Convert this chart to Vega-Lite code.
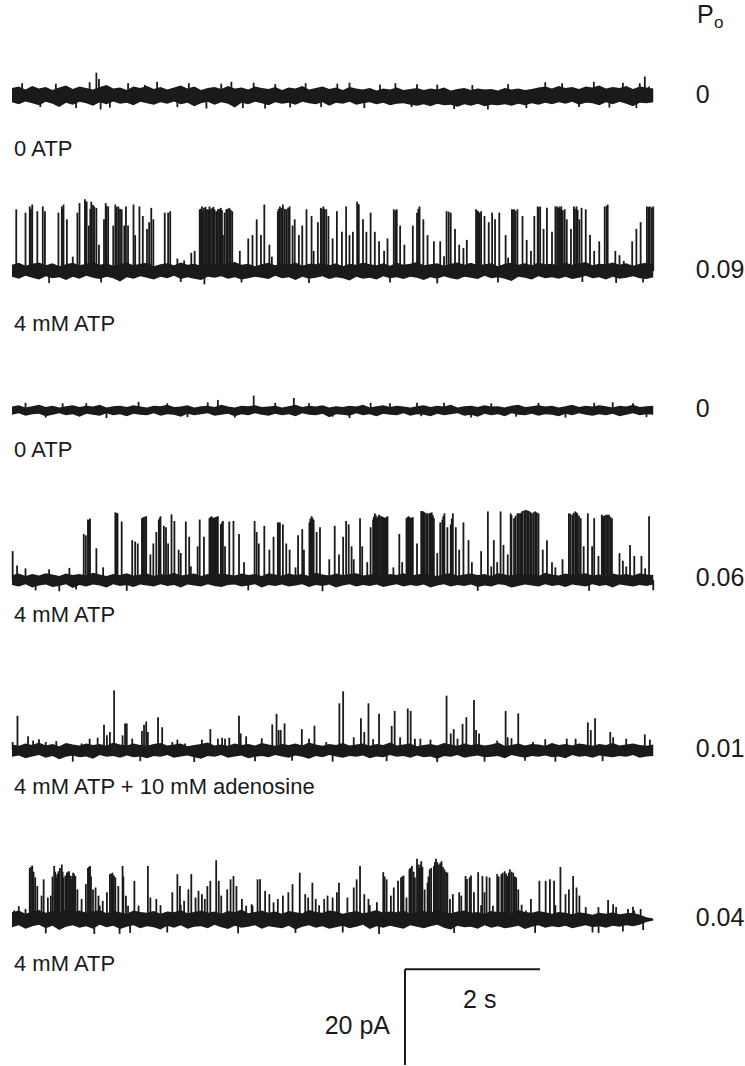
{
"$schema":"https://vega.github.io/schema/vega-lite/v6.json",
"width":745,"height":1066,"autosize":{"type":"fit","contains":"padding"},"padding":0,"background":"white",
"config":{"view":{"stroke":null},"text":{"font":"Liberation Sans","color":"#1a1a1a"}},
"datasets":{
"labels":[{"k":1,"label":"0 ATP","po":"0"},{"k":2,"label":"4 mM ATP","po":"0.09"},{"k":3,"label":"0 ATP","po":"0"},{"k":4,"label":"4 mM ATP","po":"0.06"},{"k":5,"label":"4 mM ATP + 10 mM adenosine","po":"0.01"},{"k":6,"label":"4 mM ATP","po":"0.04"}],
"header":[{"main":"P","sub":"o"}],
"scalebar":[{"time":"2 s","current":"20 pA"}],
"noise":[
{"k":1,"t":0,"h":1.6,"l":-1.4},{"k":1,"t":0.1,"h":1.9,"l":-1.8},{"k":1,"t":0.2,"h":1.3,"l":-1.2},{"k":1,"t":0.3,"h":2.0,"l":-1.6},{"k":1,"t":0.4,"h":1.5,"l":-2.0},{"k":1,"t":0.5,"h":1.8,"l":-1.3},{"k":1,"t":0.6,"h":1.2,"l":-1.7},{"k":1,"t":0.7,"h":1.7,"l":-2.4},{"k":1,"t":0.8,"h":2.1,"l":-1.5},{"k":1,"t":0.9,"h":1.4,"l":-1.9},
{"k":1,"t":1.0,"h":1.9,"l":-1.3},{"k":1,"t":1.1,"h":1.6,"l":-1.6},{"k":1,"t":1.2,"h":1.3,"l":-2.1},{"k":1,"t":1.3,"h":1.8,"l":-1.4},{"k":1,"t":1.4,"h":2.2,"l":-1.8},{"k":1,"t":1.5,"h":1.5,"l":-1.2},{"k":1,"t":1.6,"h":1.7,"l":-1.7},{"k":1,"t":1.7,"h":1.2,"l":-1.5},{"k":1,"t":1.8,"h":1.9,"l":-2.0},{"k":1,"t":1.9,"h":1.6,"l":-1.3},
{"k":1,"t":2.0,"h":2.0,"l":-1.6},{"k":1,"t":2.1,"h":1.4,"l":-1.9},{"k":1,"t":2.2,"h":1.8,"l":-1.4},{"k":1,"t":2.3,"h":1.3,"l":-1.7},{"k":1,"t":2.4,"h":1.7,"l":-1.2},{"k":1,"t":2.5,"h":2.1,"l":-1.8},{"k":1,"t":2.6,"h":1.5,"l":-1.5},{"k":1,"t":2.7,"h":1.9,"l":-2.2},{"k":1,"t":2.8,"h":1.2,"l":-1.6},{"k":1,"t":2.9,"h":1.6,"l":-1.3},
{"k":1,"t":3.0,"h":1.8,"l":-1.9},{"k":1,"t":3.1,"h":1.4,"l":-1.4},{"k":1,"t":3.2,"h":2.0,"l":-1.7},{"k":1,"t":3.3,"h":1.5,"l":-2.5},{"k":1,"t":3.4,"h":1.7,"l":-1.5},{"k":1,"t":3.5,"h":1.3,"l":-1.8},{"k":1,"t":3.6,"h":1.9,"l":-1.3},{"k":1,"t":3.7,"h":1.6,"l":-1.6},{"k":1,"t":3.8,"h":1.4,"l":-2.0},{"k":1,"t":3.9,"h":1.8,"l":-1.4},
{"k":1,"t":4.0,"h":1.2,"l":-1.7},{"k":1,"t":4.1,"h":1.7,"l":-1.5},{"k":1,"t":4.2,"h":1.5,"l":-1.9},{"k":1,"t":4.3,"h":2.0,"l":-1.3},{"k":1,"t":4.4,"h":1.3,"l":-1.6},{"k":1,"t":4.5,"h":1.6,"l":-1.8},{"k":1,"t":4.6,"h":1.9,"l":-1.4},{"k":1,"t":4.7,"h":1.4,"l":-2.1},{"k":1,"t":4.8,"h":1.7,"l":-1.5},{"k":1,"t":4.9,"h":1.2,"l":-1.7},
{"k":1,"t":5.0,"h":1.8,"l":-1.3},{"k":1,"t":5.1,"h":1.5,"l":-1.9},{"k":1,"t":5.2,"h":1.3,"l":-1.6},{"k":1,"t":5.3,"h":1.6,"l":-1.4},{"k":1,"t":5.4,"h":1.1,"l":-1.8},{"k":1,"t":5.5,"h":1.5,"l":-1.5},{"k":1,"t":5.6,"h":1.3,"l":-2.0},{"k":1,"t":5.7,"h":1.7,"l":-1.7},{"k":1,"t":5.8,"h":1.2,"l":-1.6},{"k":1,"t":5.9,"h":1.4,"l":-1.9},
{"k":1,"t":6.0,"h":1.6,"l":-2.1},{"k":1,"t":6.1,"h":1.2,"l":-1.8},{"k":1,"t":6.2,"h":1.5,"l":-2.2},{"k":1,"t":6.3,"h":1.3,"l":-1.7},{"k":1,"t":6.4,"h":1.7,"l":-2.0},{"k":1,"t":6.5,"h":1.1,"l":-1.9},{"k":1,"t":6.6,"h":1.4,"l":-2.3},{"k":1,"t":6.7,"h":1.6,"l":-1.8},{"k":1,"t":6.8,"h":1.2,"l":-2.1},{"k":1,"t":6.9,"h":1.5,"l":-1.7},
{"k":1,"t":7.0,"h":1.3,"l":-2.2},{"k":1,"t":7.1,"h":1.4,"l":-1.9},{"k":1,"t":7.2,"h":1.1,"l":-2.0},{"k":1,"t":7.3,"h":1.6,"l":-1.8},{"k":1,"t":7.4,"h":1.3,"l":-2.1},{"k":1,"t":7.5,"h":1.5,"l":-1.7},{"k":1,"t":7.6,"h":1.2,"l":-2.0},{"k":1,"t":7.7,"h":1.4,"l":-1.6},{"k":1,"t":7.8,"h":1.7,"l":-1.9},{"k":1,"t":7.9,"h":1.9,"l":-1.5},
{"k":1,"t":8.0,"h":1.5,"l":-1.8},{"k":1,"t":8.1,"h":2.0,"l":-1.4},{"k":1,"t":8.2,"h":1.6,"l":-1.7},{"k":1,"t":8.3,"h":1.8,"l":-1.3},{"k":1,"t":8.4,"h":1.4,"l":-1.9},{"k":1,"t":8.5,"h":1.9,"l":-1.5},{"k":1,"t":8.6,"h":1.7,"l":-1.6},{"k":1,"t":8.7,"h":2.1,"l":-2.0},{"k":1,"t":8.8,"h":1.5,"l":-1.4},{"k":1,"t":8.9,"h":1.8,"l":-1.8},
{"k":1,"t":9.0,"h":1.6,"l":-1.3},{"k":1,"t":9.1,"h":2.0,"l":-1.7},{"k":1,"t":9.2,"h":1.4,"l":-2.2},{"k":1,"t":9.3,"h":1.9,"l":-1.5},{"k":1,"t":9.4,"h":1.7,"l":-1.6},{"k":1,"t":9.5,"h":1.5,"l":-1.4},

{"k":2,"t":0,"h":1.3,"l":-1.2},{"k":2,"t":0.1,"h":1.7,"l":-1.6},{"k":2,"t":0.2,"h":1.1,"l":-1.0},{"k":2,"t":0.3,"h":1.5,"l":-1.4},{"k":2,"t":0.4,"h":1.8,"l":-1.8},{"k":2,"t":0.5,"h":1.2,"l":-1.1},{"k":2,"t":0.6,"h":1.6,"l":-1.5},{"k":2,"t":0.7,"h":1.0,"l":-1.3},{"k":2,"t":0.8,"h":1.4,"l":-1.9},{"k":2,"t":0.9,"h":1.7,"l":-1.2},
{"k":2,"t":1.0,"h":1.2,"l":-1.6},{"k":2,"t":1.1,"h":1.5,"l":-1.0},{"k":2,"t":1.2,"h":1.9,"l":-1.4},{"k":2,"t":1.3,"h":1.3,"l":-1.7},{"k":2,"t":1.4,"h":1.6,"l":-1.2},{"k":2,"t":1.5,"h":1.1,"l":-1.5},{"k":2,"t":1.6,"h":1.4,"l":-2.2},{"k":2,"t":1.7,"h":1.8,"l":-1.3},{"k":2,"t":1.8,"h":1.2,"l":-1.6},{"k":2,"t":1.9,"h":1.5,"l":-1.1},
{"k":2,"t":2.0,"h":1.7,"l":-1.4},{"k":2,"t":2.1,"h":1.0,"l":-1.8},{"k":2,"t":2.2,"h":1.4,"l":-1.2},{"k":2,"t":2.3,"h":1.6,"l":-1.5},{"k":2,"t":2.4,"h":1.2,"l":-1.0},{"k":2,"t":2.5,"h":1.8,"l":-1.7},{"k":2,"t":2.6,"h":1.3,"l":-1.3},{"k":2,"t":2.7,"h":1.5,"l":-1.6},{"k":2,"t":2.8,"h":1.1,"l":-1.9},{"k":2,"t":2.9,"h":1.7,"l":-1.2},
{"k":2,"t":3.0,"h":1.4,"l":-1.4},{"k":2,"t":3.1,"h":1.2,"l":-1.1},{"k":2,"t":3.2,"h":1.6,"l":-1.6},{"k":2,"t":3.3,"h":1.9,"l":-1.3},{"k":2,"t":3.4,"h":1.3,"l":-1.8},{"k":2,"t":3.5,"h":1.5,"l":-1.5},{"k":2,"t":3.6,"h":1.0,"l":-1.2},{"k":2,"t":3.7,"h":1.4,"l":-1.4},{"k":2,"t":3.8,"h":1.7,"l":-1.7},{"k":2,"t":3.9,"h":1.2,"l":-1.0},
{"k":2,"t":4.0,"h":1.6,"l":-1.5},{"k":2,"t":4.1,"h":1.3,"l":-1.3},{"k":2,"t":4.2,"h":1.8,"l":-1.9},{"k":2,"t":4.3,"h":1.1,"l":-1.2},{"k":2,"t":4.4,"h":1.5,"l":-1.6},{"k":2,"t":4.5,"h":1.4,"l":-1.4},{"k":2,"t":4.6,"h":1.7,"l":-1.1},{"k":2,"t":4.7,"h":1.2,"l":-1.7},{"k":2,"t":4.8,"h":1.6,"l":-1.3},{"k":2,"t":4.9,"h":1.0,"l":-1.5},
{"k":2,"t":5.0,"h":1.5,"l":-2.0},{"k":2,"t":5.1,"h":1.3,"l":-1.2},{"k":2,"t":5.2,"h":1.8,"l":-1.6},{"k":2,"t":5.3,"h":1.4,"l":-1.4},{"k":2,"t":5.4,"h":1.2,"l":-1.8},{"k":2,"t":5.5,"h":1.6,"l":-1.1},{"k":2,"t":5.6,"h":1.1,"l":-1.5},{"k":2,"t":5.7,"h":1.7,"l":-1.3},{"k":2,"t":5.8,"h":1.3,"l":-1.7},{"k":2,"t":5.9,"h":1.5,"l":-1.2},
{"k":2,"t":6.0,"h":1.9,"l":-1.4},{"k":2,"t":6.1,"h":1.2,"l":-1.9},{"k":2,"t":6.2,"h":1.4,"l":-1.3},{"k":2,"t":6.3,"h":1.6,"l":-1.6},{"k":2,"t":6.4,"h":1.1,"l":-1.1},{"k":2,"t":6.5,"h":1.5,"l":-1.5},{"k":2,"t":6.6,"h":1.8,"l":-1.8},{"k":2,"t":6.7,"h":1.3,"l":-1.2},{"k":2,"t":6.8,"h":1.7,"l":-1.4},{"k":2,"t":6.9,"h":1.2,"l":-1.7},
{"k":2,"t":7.0,"h":1.4,"l":-1.0},{"k":2,"t":7.1,"h":1.6,"l":-1.5},{"k":2,"t":7.2,"h":1.0,"l":-1.3},{"k":2,"t":7.3,"h":1.5,"l":-1.6},{"k":2,"t":7.4,"h":1.7,"l":-2.1},{"k":2,"t":7.5,"h":1.3,"l":-1.2},{"k":2,"t":7.6,"h":1.6,"l":-1.4},{"k":2,"t":7.7,"h":1.2,"l":-1.8},{"k":2,"t":7.8,"h":1.8,"l":-1.1},{"k":2,"t":7.9,"h":1.4,"l":-1.5},
{"k":2,"t":8.0,"h":1.5,"l":-1.3},{"k":2,"t":8.1,"h":1.1,"l":-1.6},{"k":2,"t":8.2,"h":1.7,"l":-1.2},{"k":2,"t":8.3,"h":1.3,"l":-1.7},{"k":2,"t":8.4,"h":1.6,"l":-1.4},{"k":2,"t":8.5,"h":1.9,"l":-1.0},{"k":2,"t":8.6,"h":1.2,"l":-1.5},{"k":2,"t":8.7,"h":1.5,"l":-1.3},{"k":2,"t":8.8,"h":1.4,"l":-1.8},{"k":2,"t":8.9,"h":1.8,"l":-1.2},
{"k":2,"t":9.0,"h":1.3,"l":-1.6},{"k":2,"t":9.1,"h":1.6,"l":-1.4},{"k":2,"t":9.2,"h":1.1,"l":-1.1},{"k":2,"t":9.3,"h":1.5,"l":-1.5},{"k":2,"t":9.4,"h":1.7,"l":-1.7},{"k":2,"t":9.5,"h":1.4,"l":-1.3},

{"k":3,"t":0,"h":0.8,"l":-0.9},{"k":3,"t":0.1,"h":1.1,"l":-0.6},{"k":3,"t":0.2,"h":0.6,"l":-1.1},{"k":3,"t":0.3,"h":0.9,"l":-0.8},{"k":3,"t":0.4,"h":1.2,"l":-0.7},{"k":3,"t":0.5,"h":0.7,"l":-1.2},{"k":3,"t":0.6,"h":1.0,"l":-0.9},{"k":3,"t":0.7,"h":0.6,"l":-0.6},{"k":3,"t":0.8,"h":0.9,"l":-1.0},{"k":3,"t":0.9,"h":1.1,"l":-0.8},
{"k":3,"t":1.0,"h":0.7,"l":-1.3},{"k":3,"t":1.1,"h":1.0,"l":-0.7},{"k":3,"t":1.2,"h":0.8,"l":-0.9},{"k":3,"t":1.3,"h":1.2,"l":-1.1},{"k":3,"t":1.4,"h":0.6,"l":-0.6},{"k":3,"t":1.5,"h":0.9,"l":-1.0},{"k":3,"t":1.6,"h":1.0,"l":-0.8},{"k":3,"t":1.7,"h":0.7,"l":-1.2},{"k":3,"t":1.8,"h":1.1,"l":-0.7},{"k":3,"t":1.9,"h":0.8,"l":-0.9},
{"k":3,"t":2.0,"h":0.6,"l":-1.0},{"k":3,"t":2.1,"h":1.0,"l":-0.6},{"k":3,"t":2.2,"h":0.9,"l":-1.1},{"k":3,"t":2.3,"h":1.2,"l":-0.8},{"k":3,"t":2.4,"h":0.7,"l":-0.9},{"k":3,"t":2.5,"h":0.8,"l":-1.3},{"k":3,"t":2.6,"h":1.1,"l":-0.7},{"k":3,"t":2.7,"h":0.6,"l":-1.0},{"k":3,"t":2.8,"h":0.9,"l":-0.8},{"k":3,"t":2.9,"h":1.0,"l":-0.6},
{"k":3,"t":3.0,"h":0.7,"l":-1.1},{"k":3,"t":3.1,"h":1.2,"l":-0.9},{"k":3,"t":3.2,"h":0.8,"l":-0.7},{"k":3,"t":3.3,"h":0.6,"l":-1.2},{"k":3,"t":3.4,"h":1.0,"l":-0.8},{"k":3,"t":3.5,"h":0.9,"l":-1.0},{"k":3,"t":3.6,"h":1.1,"l":-0.6},{"k":3,"t":3.7,"h":0.7,"l":-0.9},{"k":3,"t":3.8,"h":0.8,"l":-1.1},{"k":3,"t":3.9,"h":1.0,"l":-0.7},
{"k":3,"t":4.0,"h":0.6,"l":-1.0},{"k":3,"t":4.1,"h":0.9,"l":-0.8},{"k":3,"t":4.2,"h":1.2,"l":-1.2},{"k":3,"t":4.3,"h":0.7,"l":-0.6},{"k":3,"t":4.4,"h":1.0,"l":-0.9},{"k":3,"t":4.5,"h":0.8,"l":-1.0},{"k":3,"t":4.6,"h":1.1,"l":-0.7},{"k":3,"t":4.7,"h":0.6,"l":-1.4},{"k":3,"t":4.8,"h":0.9,"l":-0.8},{"k":3,"t":4.9,"h":0.7,"l":-0.9},
{"k":3,"t":5.0,"h":1.0,"l":-1.1},{"k":3,"t":5.1,"h":0.8,"l":-0.6},{"k":3,"t":5.2,"h":1.2,"l":-1.0},{"k":3,"t":5.3,"h":0.6,"l":-0.8},{"k":3,"t":5.4,"h":0.9,"l":-1.2},{"k":3,"t":5.5,"h":1.1,"l":-0.7},{"k":3,"t":5.6,"h":0.7,"l":-0.9},{"k":3,"t":5.7,"h":1.0,"l":-1.0},{"k":3,"t":5.8,"h":0.8,"l":-0.6},{"k":3,"t":5.9,"h":0.6,"l":-1.1},
{"k":3,"t":6.0,"h":0.9,"l":-0.8},{"k":3,"t":6.1,"h":1.1,"l":-0.9},{"k":3,"t":6.2,"h":0.7,"l":-1.2},{"k":3,"t":6.3,"h":1.0,"l":-0.7},{"k":3,"t":6.4,"h":0.8,"l":-1.0},{"k":3,"t":6.5,"h":1.2,"l":-0.8},{"k":3,"t":6.6,"h":0.6,"l":-0.6},{"k":3,"t":6.7,"h":0.9,"l":-1.1},{"k":3,"t":6.8,"h":1.0,"l":-0.9},{"k":3,"t":6.9,"h":0.7,"l":-1.3},
{"k":3,"t":7.0,"h":1.1,"l":-0.7},{"k":3,"t":7.1,"h":0.8,"l":-1.0},{"k":3,"t":7.2,"h":0.9,"l":-0.8},{"k":3,"t":7.3,"h":0.6,"l":-1.2},{"k":3,"t":7.4,"h":1.0,"l":-0.6},{"k":3,"t":7.5,"h":1.2,"l":-0.9},{"k":3,"t":7.6,"h":0.7,"l":-1.0},{"k":3,"t":7.7,"h":0.9,"l":-0.7},{"k":3,"t":7.8,"h":1.1,"l":-1.1},{"k":3,"t":7.9,"h":0.8,"l":-0.8},
{"k":3,"t":8.0,"h":1.0,"l":-0.9},{"k":3,"t":8.1,"h":0.6,"l":-1.2},{"k":3,"t":8.2,"h":0.9,"l":-0.7},{"k":3,"t":8.3,"h":1.2,"l":-1.0},{"k":3,"t":8.4,"h":0.7,"l":-0.6},{"k":3,"t":8.5,"h":1.0,"l":-0.9},{"k":3,"t":8.6,"h":0.8,"l":-1.1},{"k":3,"t":8.7,"h":1.1,"l":-0.8},{"k":3,"t":8.8,"h":0.9,"l":-1.0},{"k":3,"t":8.9,"h":0.6,"l":-0.7},
{"k":3,"t":9.0,"h":1.0,"l":-1.2},{"k":3,"t":9.1,"h":0.8,"l":-0.9},{"k":3,"t":9.2,"h":1.2,"l":-0.6},{"k":3,"t":9.3,"h":0.7,"l":-1.0},{"k":3,"t":9.4,"h":0.9,"l":-0.8},{"k":3,"t":9.5,"h":1.0,"l":-0.9},

{"k":4,"t":0,"h":1.0,"l":-1.1},{"k":4,"t":0.1,"h":1.3,"l":-1.4},{"k":4,"t":0.2,"h":0.8,"l":-0.9},{"k":4,"t":0.3,"h":1.2,"l":-1.6},{"k":4,"t":0.4,"h":0.9,"l":-1.2},{"k":4,"t":0.5,"h":1.4,"l":-1.0},{"k":4,"t":0.6,"h":1.1,"l":-1.5},{"k":4,"t":0.7,"h":0.8,"l":-1.3},{"k":4,"t":0.8,"h":1.3,"l":-0.9},{"k":4,"t":0.9,"h":1.0,"l":-1.7},
{"k":4,"t":1.0,"h":1.2,"l":-1.1},{"k":4,"t":1.1,"h":0.9,"l":-1.4},{"k":4,"t":1.2,"h":1.5,"l":-1.0},{"k":4,"t":1.3,"h":1.1,"l":-1.2},{"k":4,"t":1.4,"h":0.8,"l":-1.6},{"k":4,"t":1.5,"h":1.2,"l":-0.9},{"k":4,"t":1.6,"h":1.0,"l":-1.3},{"k":4,"t":1.7,"h":1.4,"l":-1.1},{"k":4,"t":1.8,"h":0.9,"l":-1.5},{"k":4,"t":1.9,"h":1.1,"l":-1.0},
{"k":4,"t":2.0,"h":1.3,"l":-1.2},{"k":4,"t":2.1,"h":0.8,"l":-1.4},{"k":4,"t":2.2,"h":1.2,"l":-0.9},{"k":4,"t":2.3,"h":1.0,"l":-1.3},{"k":4,"t":2.4,"h":1.5,"l":-1.1},{"k":4,"t":2.5,"h":0.9,"l":-1.6},{"k":4,"t":2.6,"h":1.1,"l":-1.0},{"k":4,"t":2.7,"h":1.3,"l":-1.2},{"k":4,"t":2.8,"h":0.8,"l":-1.4},{"k":4,"t":2.9,"h":1.2,"l":-0.9},
{"k":4,"t":3.0,"h":1.0,"l":-1.3},{"k":4,"t":3.1,"h":1.4,"l":-1.5},{"k":4,"t":3.2,"h":1.1,"l":-1.1},{"k":4,"t":3.3,"h":0.9,"l":-1.0},{"k":4,"t":3.4,"h":1.3,"l":-1.4},{"k":4,"t":3.5,"h":1.0,"l":-1.2},{"k":4,"t":3.6,"h":1.2,"l":-0.9},{"k":4,"t":3.7,"h":0.8,"l":-1.6},{"k":4,"t":3.8,"h":1.4,"l":-1.1},{"k":4,"t":3.9,"h":1.1,"l":-1.3},
{"k":4,"t":4.0,"h":0.9,"l":-1.0},{"k":4,"t":4.1,"h":1.3,"l":-1.4},{"k":4,"t":4.2,"h":1.0,"l":-1.2},{"k":4,"t":4.3,"h":1.2,"l":-0.9},{"k":4,"t":4.4,"h":0.8,"l":-1.5},{"k":4,"t":4.5,"h":1.5,"l":-1.1},{"k":4,"t":4.6,"h":1.1,"l":-1.3},{"k":4,"t":4.7,"h":0.9,"l":-1.0},{"k":4,"t":4.8,"h":1.3,"l":-1.6},{"k":4,"t":4.9,"h":1.0,"l":-1.2},
{"k":4,"t":5.0,"h":1.2,"l":-0.9},{"k":4,"t":5.1,"h":1.4,"l":-1.4},{"k":4,"t":5.2,"h":0.9,"l":-1.1},{"k":4,"t":5.3,"h":1.1,"l":-1.3},{"k":4,"t":5.4,"h":1.3,"l":-1.0},{"k":4,"t":5.5,"h":0.8,"l":-1.5},{"k":4,"t":5.6,"h":1.2,"l":-1.2},{"k":4,"t":5.7,"h":1.0,"l":-0.9},{"k":4,"t":5.8,"h":1.4,"l":-1.4},{"k":4,"t":5.9,"h":0.9,"l":-1.1},
{"k":4,"t":6.0,"h":1.1,"l":-1.3},{"k":4,"t":6.1,"h":1.3,"l":-1.0},{"k":4,"t":6.2,"h":1.0,"l":-1.6},{"k":4,"t":6.3,"h":0.8,"l":-1.2},{"k":4,"t":6.4,"h":1.2,"l":-0.9},{"k":4,"t":6.5,"h":1.4,"l":-1.4},{"k":4,"t":6.6,"h":0.9,"l":-1.1},{"k":4,"t":6.7,"h":1.1,"l":-1.3},{"k":4,"t":6.8,"h":1.3,"l":-1.0},{"k":4,"t":6.9,"h":1.0,"l":-1.5},
{"k":4,"t":7.0,"h":1.2,"l":-1.2},{"k":4,"t":7.1,"h":0.8,"l":-1.4},{"k":4,"t":7.2,"h":1.4,"l":-0.9},{"k":4,"t":7.3,"h":1.1,"l":-1.1},{"k":4,"t":7.4,"h":0.9,"l":-1.6},{"k":4,"t":7.5,"h":1.3,"l":-1.3},{"k":4,"t":7.6,"h":1.0,"l":-1.0},{"k":4,"t":7.7,"h":1.2,"l":-1.2},{"k":4,"t":7.8,"h":0.8,"l":-1.4},{"k":4,"t":7.9,"h":1.5,"l":-0.9},
{"k":4,"t":8.0,"h":1.1,"l":-1.3},{"k":4,"t":8.1,"h":0.9,"l":-1.1},{"k":4,"t":8.2,"h":1.3,"l":-1.5},{"k":4,"t":8.3,"h":1.0,"l":-1.0},{"k":4,"t":8.4,"h":1.2,"l":-1.2},{"k":4,"t":8.5,"h":1.4,"l":-1.4},{"k":4,"t":8.6,"h":0.9,"l":-0.9},{"k":4,"t":8.7,"h":1.1,"l":-1.3},{"k":4,"t":8.8,"h":0.8,"l":-1.1},{"k":4,"t":8.9,"h":1.3,"l":-1.6},
{"k":4,"t":9.0,"h":1.0,"l":-1.0},{"k":4,"t":9.1,"h":1.2,"l":-1.2},{"k":4,"t":9.2,"h":0.9,"l":-1.4},{"k":4,"t":9.3,"h":1.4,"l":-1.1},{"k":4,"t":9.4,"h":1.1,"l":-1.3},{"k":4,"t":9.5,"h":1.0,"l":-1.0},

{"k":5,"t":0,"h":1.2,"l":-1.4},{"k":5,"t":0.1,"h":0.9,"l":-1.1},{"k":5,"t":0.2,"h":1.4,"l":-1.7},{"k":5,"t":0.3,"h":1.1,"l":-1.3},{"k":5,"t":0.4,"h":1.6,"l":-1.0},{"k":5,"t":0.5,"h":1.0,"l":-1.6},{"k":5,"t":0.6,"h":1.3,"l":-1.2},{"k":5,"t":0.7,"h":0.8,"l":-1.9},{"k":5,"t":0.8,"h":1.5,"l":-1.4},{"k":5,"t":0.9,"h":1.2,"l":-1.1},
{"k":5,"t":1.0,"h":1.0,"l":-1.5},{"k":5,"t":1.1,"h":1.4,"l":-1.3},{"k":5,"t":1.2,"h":1.1,"l":-1.8},{"k":5,"t":1.3,"h":1.3,"l":-1.0},{"k":5,"t":1.4,"h":0.9,"l":-1.4},{"k":5,"t":1.5,"h":1.6,"l":-1.2},{"k":5,"t":1.6,"h":1.2,"l":-1.6},{"k":5,"t":1.7,"h":1.0,"l":-1.1},{"k":5,"t":1.8,"h":1.4,"l":-1.5},{"k":5,"t":1.9,"h":1.1,"l":-1.3},
{"k":5,"t":2.0,"h":0.9,"l":-1.7},{"k":5,"t":2.1,"h":1.3,"l":-1.2},{"k":5,"t":2.2,"h":1.5,"l":-1.4},{"k":5,"t":2.3,"h":1.0,"l":-1.0},{"k":5,"t":2.4,"h":1.2,"l":-1.6},{"k":5,"t":2.5,"h":1.4,"l":-1.3},{"k":5,"t":2.6,"h":0.8,"l":-1.1},{"k":5,"t":2.7,"h":1.1,"l":-1.5},{"k":5,"t":2.8,"h":1.3,"l":-1.8},{"k":5,"t":2.9,"h":1.6,"l":-1.2},
{"k":5,"t":3.0,"h":1.0,"l":-1.4},{"k":5,"t":3.1,"h":1.2,"l":-1.0},{"k":5,"t":3.2,"h":0.9,"l":-1.6},{"k":5,"t":3.3,"h":1.4,"l":-1.3},{"k":5,"t":3.4,"h":1.1,"l":-1.1},{"k":5,"t":3.5,"h":1.3,"l":-1.7},{"k":5,"t":3.6,"h":1.0,"l":-1.4},{"k":5,"t":3.7,"h":1.5,"l":-1.2},{"k":5,"t":3.8,"h":1.2,"l":-1.5},{"k":5,"t":3.9,"h":0.9,"l":-1.0},
{"k":5,"t":4.0,"h":1.3,"l":-1.3},{"k":5,"t":4.1,"h":1.1,"l":-1.6},{"k":5,"t":4.2,"h":1.4,"l":-1.1},{"k":5,"t":4.3,"h":1.0,"l":-1.4},{"k":5,"t":4.4,"h":1.6,"l":-1.8},{"k":5,"t":4.5,"h":1.2,"l":-1.2},{"k":5,"t":4.6,"h":0.9,"l":-1.5},{"k":5,"t":4.7,"h":1.3,"l":-1.0},{"k":5,"t":4.8,"h":1.1,"l":-1.3},{"k":5,"t":4.9,"h":1.5,"l":-1.6},
{"k":5,"t":5.0,"h":1.0,"l":-1.2},{"k":5,"t":5.1,"h":1.2,"l":-1.4},{"k":5,"t":5.2,"h":1.4,"l":-1.1},{"k":5,"t":5.3,"h":0.9,"l":-1.7},{"k":5,"t":5.4,"h":1.3,"l":-1.3},{"k":5,"t":5.5,"h":1.1,"l":-1.5},{"k":5,"t":5.6,"h":1.6,"l":-1.0},{"k":5,"t":5.7,"h":1.0,"l":-1.4},{"k":5,"t":5.8,"h":1.2,"l":-1.2},{"k":5,"t":5.9,"h":1.4,"l":-1.6},
{"k":5,"t":6.0,"h":0.8,"l":-1.1},{"k":5,"t":6.1,"h":1.1,"l":-1.5},{"k":5,"t":6.2,"h":1.3,"l":-1.3},{"k":5,"t":6.3,"h":1.0,"l":-1.8},{"k":5,"t":6.4,"h":1.5,"l":-1.2},{"k":5,"t":6.5,"h":1.2,"l":-1.4},{"k":5,"t":6.6,"h":0.9,"l":-1.0},{"k":5,"t":6.7,"h":1.4,"l":-1.6},{"k":5,"t":6.8,"h":1.1,"l":-1.3},{"k":5,"t":6.9,"h":1.3,"l":-1.1},
{"k":5,"t":7.0,"h":1.0,"l":-1.5},{"k":5,"t":7.1,"h":1.2,"l":-1.4},{"k":5,"t":7.2,"h":1.6,"l":-1.2},{"k":5,"t":7.3,"h":0.9,"l":-1.7},{"k":5,"t":7.4,"h":1.1,"l":-1.0},{"k":5,"t":7.5,"h":1.4,"l":-1.3},{"k":5,"t":7.6,"h":1.0,"l":-1.6},{"k":5,"t":7.7,"h":1.3,"l":-1.2},{"k":5,"t":7.8,"h":1.2,"l":-1.4},{"k":5,"t":7.9,"h":0.9,"l":-1.1},
{"k":5,"t":8.0,"h":1.5,"l":-1.5},{"k":5,"t":8.1,"h":1.1,"l":-1.3},{"k":5,"t":8.2,"h":1.3,"l":-1.7},{"k":5,"t":8.3,"h":1.0,"l":-1.0},{"k":5,"t":8.4,"h":1.4,"l":-1.4},{"k":5,"t":8.5,"h":1.2,"l":-1.2},{"k":5,"t":8.6,"h":0.9,"l":-1.6},{"k":5,"t":8.7,"h":1.3,"l":-1.1},{"k":5,"t":8.8,"h":1.1,"l":-1.3},{"k":5,"t":8.9,"h":1.5,"l":-1.5},
{"k":5,"t":9.0,"h":1.0,"l":-1.2},{"k":5,"t":9.1,"h":1.2,"l":-1.4},{"k":5,"t":9.2,"h":1.4,"l":-1.0},{"k":5,"t":9.3,"h":1.1,"l":-1.6},{"k":5,"t":9.4,"h":0.9,"l":-1.3},{"k":5,"t":9.5,"h":1.2,"l":-1.2},

{"k":6,"t":0,"h":1.5,"l":-1.6},{"k":6,"t":0.1,"h":1.9,"l":-1.2},{"k":6,"t":0.2,"h":1.2,"l":-1.9},{"k":6,"t":0.3,"h":1.7,"l":-1.4},{"k":6,"t":0.4,"h":2.0,"l":-1.1},{"k":6,"t":0.5,"h":1.4,"l":-1.8},{"k":6,"t":0.6,"h":1.8,"l":-1.3},{"k":6,"t":0.7,"h":1.3,"l":-2.2},{"k":6,"t":0.8,"h":2.1,"l":-1.5},{"k":6,"t":0.9,"h":1.6,"l":-1.2},
{"k":6,"t":1.0,"h":1.9,"l":-1.7},{"k":6,"t":1.1,"h":1.4,"l":-1.4},{"k":6,"t":1.2,"h":1.7,"l":-1.9},{"k":6,"t":1.3,"h":2.0,"l":-1.1},{"k":6,"t":1.4,"h":1.3,"l":-1.6},{"k":6,"t":1.5,"h":1.8,"l":-1.3},{"k":6,"t":1.6,"h":1.5,"l":-2.0},{"k":6,"t":1.7,"h":1.2,"l":-1.5},{"k":6,"t":1.8,"h":1.9,"l":-1.2},{"k":6,"t":1.9,"h":1.6,"l":-1.8},
{"k":6,"t":2.0,"h":1.4,"l":-1.4},{"k":6,"t":2.1,"h":1.8,"l":-1.6},{"k":6,"t":2.2,"h":1.2,"l":-2.1},{"k":6,"t":2.3,"h":1.7,"l":-1.3},{"k":6,"t":2.4,"h":1.5,"l":-1.7},{"k":6,"t":2.5,"h":2.0,"l":-1.2},{"k":6,"t":2.6,"h":1.3,"l":-1.9},{"k":6,"t":2.7,"h":1.6,"l":-1.5},{"k":6,"t":2.8,"h":1.9,"l":-1.4},{"k":6,"t":2.9,"h":1.4,"l":-1.8},
{"k":6,"t":3.0,"h":1.7,"l":-1.1},{"k":6,"t":3.1,"h":1.2,"l":-1.6},{"k":6,"t":3.2,"h":1.8,"l":-2.0},{"k":6,"t":3.3,"h":1.5,"l":-1.3},{"k":6,"t":3.4,"h":2.1,"l":-1.7},{"k":6,"t":3.5,"h":1.3,"l":-1.5},{"k":6,"t":3.6,"h":1.6,"l":-1.2},{"k":6,"t":3.7,"h":1.9,"l":-1.9},{"k":6,"t":3.8,"h":1.4,"l":-1.4},{"k":6,"t":3.9,"h":1.7,"l":-1.6},
{"k":6,"t":4.0,"h":1.2,"l":-1.8},{"k":6,"t":4.1,"h":1.8,"l":-1.3},{"k":6,"t":4.2,"h":1.5,"l":-2.1},{"k":6,"t":4.3,"h":1.3,"l":-1.5},{"k":6,"t":4.4,"h":2.0,"l":-1.2},{"k":6,"t":4.5,"h":1.6,"l":-1.7},{"k":6,"t":4.6,"h":1.4,"l":-1.4},{"k":6,"t":4.7,"h":1.9,"l":-1.9},{"k":6,"t":4.8,"h":1.7,"l":-1.6},{"k":6,"t":4.9,"h":1.2,"l":-1.3},
{"k":6,"t":5.0,"h":1.5,"l":-1.8},{"k":6,"t":5.1,"h":1.8,"l":-1.5},{"k":6,"t":5.2,"h":1.3,"l":-1.1},{"k":6,"t":5.3,"h":1.6,"l":-2.0},{"k":6,"t":5.4,"h":2.0,"l":-1.4},{"k":6,"t":5.5,"h":1.4,"l":-1.7},{"k":6,"t":5.6,"h":1.7,"l":-1.3},{"k":6,"t":5.7,"h":1.5,"l":-1.6},{"k":6,"t":5.8,"h":1.9,"l":-1.9},{"k":6,"t":5.9,"h":1.2,"l":-1.2},
{"k":6,"t":6.0,"h":1.6,"l":-1.5},{"k":6,"t":6.1,"h":1.8,"l":-1.8},{"k":6,"t":6.2,"h":1.4,"l":-1.4},{"k":6,"t":6.3,"h":2.1,"l":-1.1},{"k":6,"t":6.4,"h":1.5,"l":-1.7},{"k":6,"t":6.5,"h":1.3,"l":-2.1},{"k":6,"t":6.6,"h":1.7,"l":-1.3},{"k":6,"t":6.7,"h":1.9,"l":-1.6},{"k":6,"t":6.8,"h":1.4,"l":-1.5},{"k":6,"t":6.9,"h":1.6,"l":-1.9},
{"k":6,"t":7.0,"h":1.2,"l":-1.2},{"k":6,"t":7.1,"h":1.8,"l":-1.7},{"k":6,"t":7.2,"h":1.5,"l":-1.4},{"k":6,"t":7.3,"h":1.7,"l":-1.8},{"k":6,"t":7.4,"h":1.3,"l":-1.6},{"k":6,"t":7.5,"h":2.0,"l":-1.3},{"k":6,"t":7.6,"h":1.6,"l":-2.0},{"k":6,"t":7.7,"h":1.4,"l":-1.5},{"k":6,"t":7.8,"h":1.8,"l":-1.2},{"k":6,"t":7.9,"h":1.5,"l":-1.7},
{"k":6,"t":8.0,"h":1.2,"l":-1.4},{"k":6,"t":8.1,"h":1.6,"l":-1.6},{"k":6,"t":8.2,"h":1.4,"l":-1.3},{"k":6,"t":8.3,"h":1.1,"l":-1.8},{"k":6,"t":8.4,"h":1.5,"l":-1.5},{"k":6,"t":8.5,"h":1.3,"l":-1.2},{"k":6,"t":8.6,"h":1.0,"l":-1.6},{"k":6,"t":8.7,"h":1.4,"l":-1.4},{"k":6,"t":8.8,"h":1.2,"l":-1.7},{"k":6,"t":8.9,"h":1.5,"l":-1.3},
{"k":6,"t":9.0,"h":1.1,"l":-1.5},{"k":6,"t":9.1,"h":1.3,"l":-1.2},{"k":6,"t":9.2,"h":1.4,"l":-1.4},{"k":6,"t":9.3,"h":1.0,"l":-1.1},{"k":6,"t":9.4,"h":0.5,"l":-0.5},{"k":6,"t":9.5,"h":0.2,"l":-0.2}
],
"open":[
{"k":1,"t":1.25,"a":4.8},{"k":1,"t":1.288,"a":3.5},{"k":1,"t":1.313,"a":-2.9},{"k":1,"t":1.969,"a":2.2},{"k":1,"t":3.25,"a":2.9},{"k":1,"t":3.75,"a":-2.7},{"k":1,"t":5.0,"a":2.7},{"k":1,"t":6.0,"a":2.4},{"k":1,"t":9.25,"a":-2.6},{"k":1,"t":9.375,"a":4.0},{"k":1,"t":9.438,"a":1.9},
{"k":1,"t":0.15,"a":2.6},{"k":1,"t":0.42,"a":-2.4},{"k":1,"t":0.65,"a":2.5},{"k":1,"t":0.95,"a":-2.6},{"k":1,"t":1.15,"a":2.8},{"k":1,"t":1.45,"a":-2.5},{"k":1,"t":1.72,"a":2.6},{"k":1,"t":2.15,"a":2.9},{"k":1,"t":2.45,"a":-2.4},{"k":1,"t":2.62,"a":2.6},{"k":1,"t":2.88,"a":-2.7},{"k":1,"t":3.1,"a":2.5},{"k":1,"t":3.42,"a":-2.6},{"k":1,"t":3.58,"a":2.7},{"k":1,"t":3.9,"a":2.4},{"k":1,"t":4.12,"a":-2.5},{"k":1,"t":4.35,"a":2.6},{"k":1,"t":4.58,"a":-2.4},{"k":1,"t":4.82,"a":2.5},{"k":1,"t":5.22,"a":-2.6},{"k":1,"t":5.45,"a":2.3},{"k":1,"t":5.68,"a":2.6},{"k":1,"t":5.92,"a":-2.4},{"k":1,"t":6.3,"a":2.3},{"k":1,"t":6.55,"a":-2.8},{"k":1,"t":6.82,"a":2.2},{"k":1,"t":7.05,"a":-2.9},{"k":1,"t":7.35,"a":2.4},{"k":1,"t":7.62,"a":-2.6},{"k":1,"t":7.9,"a":2.8},{"k":1,"t":8.15,"a":2.6},{"k":1,"t":8.4,"a":-2.4},{"k":1,"t":8.62,"a":2.9},{"k":1,"t":8.85,"a":-2.5},{"k":1,"t":9.05,"a":2.7},{"k":1,"t":9.3,"a":2.6},

{"k":2,"t":0.063,"a":12.9},{"k":2,"t":0.2,"a":12.2},{"k":2,"t":0.263,"a":13.5},{"k":2,"t":0.3,"a":13.9},{"k":2,"t":0.375,"a":12.5},{"k":2,"t":0.456,"a":13.5},{"k":2,"t":0.488,"a":12.5},{"k":2,"t":0.688,"a":12.2},{"k":2,"t":0.738,"a":13.5},{"k":2,"t":0.763,"a":13.9},
{"k":2,"t":0.813,"a":10.8},{"k":2,"t":0.969,"a":12.2},{"k":2,"t":1.0,"a":14.2},{"k":2,"t":1.081,"a":15.0},{"k":2,"t":1.106,"a":14.5},{"k":2,"t":1.138,"a":9.5},{"k":2,"t":1.175,"a":14.5},{"k":2,"t":1.219,"a":13.5},{"k":2,"t":1.25,"a":13.2},{"k":2,"t":1.288,"a":5.5},
{"k":2,"t":1.363,"a":10.8},{"k":2,"t":1.388,"a":14.2},{"k":2,"t":1.425,"a":13.5},{"k":2,"t":1.5,"a":9.5},{"k":2,"t":1.531,"a":13.9},{"k":2,"t":1.575,"a":13.5},{"k":2,"t":1.625,"a":12.9},{"k":2,"t":1.663,"a":9.5},{"k":2,"t":1.688,"a":13.5},{"k":2,"t":1.719,"a":9.5},
{"k":2,"t":1.8,"a":13.9},{"k":2,"t":1.825,"a":7.5},{"k":2,"t":1.888,"a":13.5},{"k":2,"t":1.938,"a":11.5},{"k":2,"t":2.0,"a":8.8},{"k":2,"t":2.031,"a":10.2},{"k":2,"t":2.063,"a":13.2},{"k":2,"t":2.094,"a":10.8},{"k":2,"t":2.263,"a":12.2},{"k":2,"t":2.313,"a":12.2},
{"k":2,"t":2.344,"a":12.5},{"k":2,"t":2.656,"a":3.8},{"k":2,"t":2.706,"a":4.2},{"k":2,"t":2.781,"a":12.9},{"k":2,"t":2.813,"a":13.5},{"k":2,"t":2.844,"a":13.2},{"k":2,"t":2.888,"a":12.9},{"k":2,"t":2.925,"a":13.5},{"k":2,"t":2.969,"a":13.2},{"k":2,"t":3.0,"a":12.9},
{"k":2,"t":3.05,"a":12.9},{"k":2,"t":3.094,"a":13.2},{"k":2,"t":3.125,"a":7.5},{"k":2,"t":3.175,"a":12.9},{"k":2,"t":3.219,"a":13.2},{"k":2,"t":3.263,"a":12.5},{"k":2,"t":3.375,"a":4.2},{"k":2,"t":3.5,"a":6.8},{"k":2,"t":3.563,"a":7.5},{"k":2,"t":3.625,"a":10.8},
{"k":2,"t":3.688,"a":7.5},{"k":2,"t":3.738,"a":13.9},{"k":2,"t":3.813,"a":5.5},{"k":2,"t":3.938,"a":12.5},{"k":2,"t":3.969,"a":13.5},{"k":2,"t":4.013,"a":13.9},{"k":2,"t":4.063,"a":12.9},{"k":2,"t":4.113,"a":13.5},{"k":2,"t":4.156,"a":9.5},{"k":2,"t":4.188,"a":10.8},
{"k":2,"t":4.25,"a":7.5},{"k":2,"t":4.3,"a":9.5},{"k":2,"t":4.363,"a":12.9},{"k":2,"t":4.438,"a":11.5},{"k":2,"t":4.469,"a":4.2},{"k":2,"t":4.531,"a":10.2},{"k":2,"t":4.575,"a":13.2},{"k":2,"t":4.613,"a":13.5},{"k":2,"t":4.656,"a":12.9},{"k":2,"t":4.688,"a":11.5},
{"k":2,"t":4.75,"a":6.8},{"k":2,"t":4.813,"a":12.5},{"k":2,"t":4.888,"a":8.2},{"k":2,"t":4.95,"a":13.5},{"k":2,"t":5.0,"a":7.5},{"k":2,"t":5.05,"a":8.2},{"k":2,"t":5.113,"a":14.5},{"k":2,"t":5.138,"a":13.9},{"k":2,"t":5.2,"a":10.8},{"k":2,"t":5.25,"a":8.2},
{"k":2,"t":5.313,"a":12.2},{"k":2,"t":5.375,"a":8.2},{"k":2,"t":5.438,"a":6.2},{"k":2,"t":5.513,"a":4.2},{"k":2,"t":5.563,"a":6.8},{"k":2,"t":5.656,"a":12.9},{"k":2,"t":5.7,"a":12.9},{"k":2,"t":5.75,"a":9.5},{"k":2,"t":5.813,"a":5.5},{"k":2,"t":5.938,"a":9.5},
{"k":2,"t":6.0,"a":12.2},{"k":2,"t":6.038,"a":13.5},{"k":2,"t":6.094,"a":10.8},{"k":2,"t":6.156,"a":7.5},{"k":2,"t":6.25,"a":6.2},{"k":2,"t":6.344,"a":6.2},{"k":2,"t":6.438,"a":12.5},{"k":2,"t":6.5,"a":12.2},{"k":2,"t":6.563,"a":8.8},{"k":2,"t":6.625,"a":5.5},
{"k":2,"t":6.688,"a":4.8},{"k":2,"t":6.738,"a":6.5},{"k":2,"t":6.875,"a":12.9},{"k":2,"t":6.906,"a":12.5},{"k":2,"t":6.95,"a":12.5},{"k":2,"t":7.0,"a":11.5},{"k":2,"t":7.063,"a":10.2},{"k":2,"t":7.113,"a":12.2},{"k":2,"t":7.156,"a":10.8},{"k":2,"t":7.219,"a":12.2},
{"k":2,"t":7.313,"a":7.5},{"k":2,"t":7.406,"a":12.9},{"k":2,"t":7.438,"a":12.9},{"k":2,"t":7.488,"a":12.9},{"k":2,"t":7.563,"a":11.5},{"k":2,"t":7.625,"a":6.5},{"k":2,"t":7.688,"a":4.2},{"k":2,"t":7.738,"a":11.5},{"k":2,"t":7.788,"a":13.5},{"k":2,"t":7.825,"a":13.5},
{"k":2,"t":7.875,"a":8.8},{"k":2,"t":7.925,"a":13.2},{"k":2,"t":8.0,"a":8.2},{"k":2,"t":8.05,"a":13.5},{"k":2,"t":8.075,"a":13.5},{"k":2,"t":8.113,"a":13.5},{"k":2,"t":8.138,"a":13.5},{"k":2,"t":8.188,"a":12.9},{"k":2,"t":8.219,"a":10.8},{"k":2,"t":8.281,"a":8.8},
{"k":2,"t":8.325,"a":13.5},{"k":2,"t":8.363,"a":13.5},{"k":2,"t":8.406,"a":10.8},{"k":2,"t":8.438,"a":13.2},{"k":2,"t":8.5,"a":12.9},{"k":2,"t":8.563,"a":7.5},{"k":2,"t":8.625,"a":4.2},{"k":2,"t":8.7,"a":6.2},{"k":2,"t":8.781,"a":13.5},{"k":2,"t":8.825,"a":13.9},
{"k":2,"t":8.938,"a":4.2},{"k":2,"t":9.063,"a":2.1},{"k":2,"t":9.188,"a":6.2},{"k":2,"t":9.25,"a":8.8},{"k":2,"t":9.313,"a":10.2},{"k":2,"t":9.406,"a":13.5},{"k":2,"t":9.45,"a":13.5},{"k":2,"t":9.5,"a":13.5},
{"k":2,"t":2.797,"a":13.0},{"k":2,"t":2.828,"a":12.6},{"k":2,"t":2.866,"a":13.4},{"k":2,"t":2.906,"a":12.8},{"k":2,"t":2.947,"a":13.0},{"k":2,"t":2.984,"a":13.4},{"k":2,"t":3.025,"a":12.5},{"k":2,"t":3.07,"a":13.0},{"k":2,"t":3.11,"a":12.7},{"k":2,"t":3.15,"a":12.2},{"k":2,"t":3.197,"a":13.0},{"k":2,"t":3.24,"a":12.8},
{"k":2,"t":8.09,"a":13.2},{"k":2,"t":8.125,"a":13.0},{"k":2,"t":8.16,"a":12.7},{"k":2,"t":8.34,"a":13.0},{"k":2,"t":8.38,"a":12.8},{"k":2,"t":0.28,"a":13.0},{"k":2,"t":0.744,"a":13.0},{"k":2,"t":1.09,"a":14.6},{"k":2,"t":1.16,"a":13.0},{"k":2,"t":1.2,"a":13.8},{"k":2,"t":1.4,"a":13.6},{"k":2,"t":1.55,"a":13.4},{"k":2,"t":1.6,"a":13.0},
{"k":2,"t":3.95,"a":13.0},{"k":2,"t":3.99,"a":13.2},{"k":2,"t":4.04,"a":13.0},{"k":2,"t":4.09,"a":13.2},{"k":2,"t":4.59,"a":13.0},{"k":2,"t":4.63,"a":13.0},{"k":2,"t":5.125,"a":14.0},{"k":2,"t":5.68,"a":12.7},{"k":2,"t":6.02,"a":13.0},{"k":2,"t":6.47,"a":12.4},{"k":2,"t":6.89,"a":12.6},{"k":2,"t":6.93,"a":12.2},{"k":2,"t":7.42,"a":12.8},{"k":2,"t":7.46,"a":12.6},{"k":2,"t":7.8,"a":13.3},{"k":2,"t":8.81,"a":13.6},{"k":2,"t":9.43,"a":13.4},{"k":2,"t":9.48,"a":13.3},
{"k":2,"t":0.55,"a":-2.5},{"k":2,"t":1.32,"a":-2.4},{"k":2,"t":2.5,"a":-2.3},{"k":2,"t":2.85,"a":-2.8},{"k":2,"t":3.4,"a":-2.4},{"k":2,"t":4.4,"a":-2.5},{"k":2,"t":5.6,"a":-2.4},{"k":2,"t":6.3,"a":-2.6},{"k":2,"t":7.2,"a":-2.4},{"k":2,"t":8.45,"a":-2.3},{"k":2,"t":8.95,"a":-2.5},{"k":2,"t":9.35,"a":-2.4},{"k":2,"t":0.9,"a":3.0},{"k":2,"t":2.45,"a":2.6},{"k":2,"t":2.55,"a":2.2},{"k":2,"t":3.85,"a":3.0},{"k":2,"t":6.4,"a":3.1},{"k":2,"t":7.35,"a":2.8},{"k":2,"t":9.0,"a":3.3},

{"k":3,"t":0.75,"a":1.5},{"k":3,"t":1.875,"a":1.8},{"k":3,"t":3.05,"a":2.2},{"k":3,"t":3.581,"a":3.1},{"k":3,"t":4.175,"a":2.6},{"k":3,"t":4.75,"a":-1.3},{"k":3,"t":5.313,"a":1.6},{"k":3,"t":6.0,"a":1.6},{"k":3,"t":6.063,"a":-1.2},{"k":3,"t":7.469,"a":-1.3},{"k":3,"t":8.625,"a":1.6},
{"k":3,"t":0.2,"a":1.6},{"k":3,"t":0.5,"a":-1.5},{"k":3,"t":1.1,"a":1.5},{"k":3,"t":1.4,"a":-1.6},{"k":3,"t":2.3,"a":1.5},{"k":3,"t":2.6,"a":-1.4},{"k":3,"t":2.9,"a":1.7},{"k":3,"t":3.3,"a":-1.5},{"k":3,"t":3.9,"a":1.6},{"k":3,"t":4.4,"a":1.5},{"k":3,"t":5.0,"a":-1.6},{"k":3,"t":5.6,"a":1.5},{"k":3,"t":6.4,"a":1.6},{"k":3,"t":6.8,"a":-1.5},{"k":3,"t":7.1,"a":1.5},{"k":3,"t":7.8,"a":1.6},{"k":3,"t":8.2,"a":-1.5},{"k":3,"t":8.9,"a":1.7},{"k":3,"t":9.2,"a":1.5},{"k":3,"t":9.4,"a":-1.4},

{"k":4,"t":0.01,"a":6.0},{"k":4,"t":0.075,"a":3.0},{"k":4,"t":1.063,"a":9.6},{"k":4,"t":1.094,"a":9.3},{"k":4,"t":1.125,"a":12.6},{"k":4,"t":1.156,"a":12.8},{"k":4,"t":1.25,"a":6.6},{"k":4,"t":1.531,"a":14.1},{"k":4,"t":1.563,"a":13.9},{"k":4,"t":1.625,"a":12.2},
{"k":4,"t":1.781,"a":8.3},{"k":4,"t":1.825,"a":8.0},{"k":4,"t":1.863,"a":7.6},{"k":4,"t":1.925,"a":12.9},{"k":4,"t":1.95,"a":13.1},{"k":4,"t":1.988,"a":13.3},{"k":4,"t":2.05,"a":5.3},{"k":4,"t":2.094,"a":7.6},{"k":4,"t":2.138,"a":10.0},{"k":4,"t":2.175,"a":12.6},
{"k":4,"t":2.2,"a":13.3},{"k":4,"t":2.25,"a":11.3},{"k":4,"t":2.281,"a":11.0},{"k":4,"t":2.313,"a":7.6},{"k":4,"t":2.363,"a":13.7},{"k":4,"t":2.406,"a":12.3},{"k":4,"t":2.469,"a":6.3},{"k":4,"t":2.5,"a":5.6},{"k":4,"t":2.575,"a":12.2},{"k":4,"t":2.625,"a":9.0},
{"k":4,"t":2.75,"a":7.0},{"k":4,"t":2.781,"a":12.6},{"k":4,"t":2.844,"a":9.0},{"k":4,"t":2.925,"a":12.9},{"k":4,"t":2.956,"a":13.3},{"k":4,"t":2.988,"a":12.9},{"k":4,"t":3.013,"a":13.1},{"k":4,"t":3.05,"a":13.3},{"k":4,"t":3.094,"a":11.6},{"k":4,"t":3.125,"a":12.3},
{"k":4,"t":3.156,"a":7.0},{"k":4,"t":3.219,"a":12.2},{"k":4,"t":3.281,"a":12.3},{"k":4,"t":3.363,"a":9.6},{"k":4,"t":3.438,"a":3.7},{"k":4,"t":3.594,"a":12.3},{"k":4,"t":3.625,"a":10.0},{"k":4,"t":3.656,"a":7.6},{"k":4,"t":3.738,"a":11.3},{"k":4,"t":3.813,"a":6.3},
{"k":4,"t":3.875,"a":9.0},{"k":4,"t":3.938,"a":12.0},{"k":4,"t":3.969,"a":12.0},{"k":4,"t":4.013,"a":11.6},{"k":4,"t":4.063,"a":7.6},{"k":4,"t":4.113,"a":6.3},{"k":4,"t":4.238,"a":9.3},{"k":4,"t":4.3,"a":10.6},{"k":4,"t":4.325,"a":6.3},{"k":4,"t":4.406,"a":12.0},
{"k":4,"t":4.438,"a":13.3},{"k":4,"t":4.469,"a":12.6},{"k":4,"t":4.513,"a":10.0},{"k":4,"t":4.563,"a":11.0},{"k":4,"t":4.7,"a":4.3},{"k":4,"t":4.781,"a":11.3},{"k":4,"t":4.844,"a":5.3},{"k":4,"t":4.906,"a":9.0},{"k":4,"t":4.95,"a":12.3},{"k":4,"t":4.988,"a":11.6},
{"k":4,"t":5.031,"a":7.0},{"k":4,"t":5.063,"a":4.3},{"k":4,"t":5.156,"a":12.9},{"k":4,"t":5.188,"a":7.0},{"k":4,"t":5.263,"a":3.7},{"k":4,"t":5.313,"a":11.0},{"k":4,"t":5.35,"a":12.6},{"k":4,"t":5.375,"a":13.9},{"k":4,"t":5.406,"a":12.9},{"k":4,"t":5.438,"a":13.6},
{"k":4,"t":5.469,"a":13.3},{"k":4,"t":5.5,"a":13.1},{"k":4,"t":5.531,"a":12.9},{"k":4,"t":5.563,"a":13.3},{"k":4,"t":5.738,"a":9.6},{"k":4,"t":5.781,"a":3.7},{"k":4,"t":5.844,"a":12.9},{"k":4,"t":5.875,"a":13.3},{"k":4,"t":5.906,"a":12.9},{"k":4,"t":5.938,"a":13.1},
{"k":4,"t":6.0,"a":7.6},{"k":4,"t":6.063,"a":14.4},{"k":4,"t":6.094,"a":14.3},{"k":4,"t":6.138,"a":13.9},{"k":4,"t":6.188,"a":13.9},{"k":4,"t":6.219,"a":14.1},{"k":4,"t":6.25,"a":12.9},{"k":4,"t":6.3,"a":5.6},{"k":4,"t":6.344,"a":12.0},{"k":4,"t":6.375,"a":12.6},
{"k":4,"t":6.406,"a":13.9},{"k":4,"t":6.45,"a":11.0},{"k":4,"t":6.5,"a":11.6},{"k":4,"t":6.531,"a":13.9},{"k":4,"t":6.575,"a":11.0},{"k":4,"t":6.625,"a":6.3},{"k":4,"t":6.688,"a":12.0},{"k":4,"t":6.763,"a":8.3},{"k":4,"t":6.813,"a":3.7},{"k":4,"t":6.95,"a":6.0},
{"k":4,"t":7.05,"a":14.3},{"k":4,"t":7.138,"a":8.3},{"k":4,"t":7.188,"a":3.7},{"k":4,"t":7.238,"a":14.3},{"k":4,"t":7.281,"a":7.3},{"k":4,"t":7.344,"a":5.3},{"k":4,"t":7.388,"a":13.9},{"k":4,"t":7.438,"a":12.9},{"k":4,"t":7.488,"a":13.9},{"k":4,"t":7.531,"a":13.9},
{"k":4,"t":7.563,"a":14.4},{"k":4,"t":7.613,"a":14.6},{"k":4,"t":7.656,"a":14.4},{"k":4,"t":7.7,"a":13.9},{"k":4,"t":7.75,"a":14.3},{"k":4,"t":7.8,"a":13.9},{"k":4,"t":7.863,"a":6.3},{"k":4,"t":7.925,"a":8.3},{"k":4,"t":8.0,"a":3.7},{"k":4,"t":8.156,"a":4.3},
{"k":4,"t":8.25,"a":13.9},{"k":4,"t":8.3,"a":13.6},{"k":4,"t":8.344,"a":14.3},{"k":4,"t":8.375,"a":13.9},{"k":4,"t":8.425,"a":12.9},{"k":4,"t":8.469,"a":7.0},{"k":4,"t":8.531,"a":13.9},{"k":4,"t":8.594,"a":7.0},{"k":4,"t":8.625,"a":12.9},{"k":4,"t":8.688,"a":5.0},
{"k":4,"t":8.738,"a":13.6},{"k":4,"t":8.763,"a":13.3},{"k":4,"t":8.8,"a":13.6},{"k":4,"t":8.844,"a":13.6},{"k":4,"t":8.888,"a":12.9},{"k":4,"t":9.0,"a":5.6},{"k":4,"t":9.05,"a":4.0},{"k":4,"t":9.156,"a":7.3},{"k":4,"t":9.219,"a":5.0},{"k":4,"t":9.325,"a":5.0},
{"k":4,"t":9.438,"a":13.3},
{"k":4,"t":1.14,"a":12.5},{"k":4,"t":1.547,"a":14.0},{"k":4,"t":1.94,"a":13.0},{"k":4,"t":1.97,"a":13.2},{"k":4,"t":2.19,"a":13.0},{"k":4,"t":2.94,"a":13.1},{"k":4,"t":2.97,"a":13.0},{"k":4,"t":3.0,"a":13.0},{"k":4,"t":3.03,"a":13.2},{"k":4,"t":3.11,"a":12.0},{"k":4,"t":3.955,"a":12.0},{"k":4,"t":4.42,"a":12.8},{"k":4,"t":4.45,"a":13.0},
{"k":4,"t":5.36,"a":13.2},{"k":4,"t":5.39,"a":13.5},{"k":4,"t":5.42,"a":13.2},{"k":4,"t":5.45,"a":13.4},{"k":4,"t":5.485,"a":13.2},{"k":4,"t":5.515,"a":13.0},{"k":4,"t":5.545,"a":13.1},{"k":4,"t":5.86,"a":13.1},{"k":4,"t":5.89,"a":13.1},{"k":4,"t":5.92,"a":13.0},
{"k":4,"t":6.078,"a":14.3},{"k":4,"t":6.115,"a":14.1},{"k":4,"t":6.16,"a":13.9},{"k":4,"t":6.2,"a":14.0},{"k":4,"t":6.235,"a":13.5},{"k":4,"t":6.39,"a":13.3},{"k":4,"t":6.515,"a":12.8},
{"k":4,"t":7.4,"a":13.5},{"k":4,"t":7.46,"a":13.4},{"k":4,"t":7.51,"a":13.9},{"k":4,"t":7.55,"a":14.1},{"k":4,"t":7.59,"a":14.5},{"k":4,"t":7.635,"a":14.5},{"k":4,"t":7.68,"a":14.2},{"k":4,"t":7.725,"a":14.1},{"k":4,"t":7.775,"a":14.1},
{"k":4,"t":8.27,"a":13.8},{"k":4,"t":8.32,"a":14.0},{"k":4,"t":8.36,"a":14.1},{"k":4,"t":8.4,"a":13.4},{"k":4,"t":8.75,"a":13.4},{"k":4,"t":8.78,"a":13.4},{"k":4,"t":8.82,"a":13.6},{"k":4,"t":8.865,"a":13.2},
{"k":4,"t":0.2,"a":2.4},{"k":4,"t":0.35,"a":-2.2},{"k":4,"t":0.55,"a":2.2},{"k":4,"t":0.7,"a":-2.4},{"k":4,"t":0.85,"a":2.5},{"k":4,"t":0.95,"a":-2.0},{"k":4,"t":1.35,"a":2.6},{"k":4,"t":1.7,"a":-2.3},{"k":4,"t":2.65,"a":2.8},{"k":4,"t":3.5,"a":-2.2},{"k":4,"t":4.2,"a":2.6},{"k":4,"t":4.6,"a":-2.4},{"k":4,"t":5.65,"a":2.6},{"k":4,"t":6.9,"a":-2.3},{"k":4,"t":7.1,"a":2.8},{"k":4,"t":8.05,"a":2.6},{"k":4,"t":8.55,"a":-2.3},{"k":4,"t":9.1,"a":2.8},{"k":4,"t":9.38,"a":2.4},{"k":4,"t":9.5,"a":-2.2},

{"k":5,"t":0.01,"a":1.7},{"k":5,"t":0.081,"a":7.2},{"k":5,"t":0.238,"a":2.9},{"k":5,"t":0.313,"a":2.0},{"k":5,"t":0.5,"a":1.7},{"k":5,"t":0.656,"a":1.9},{"k":5,"t":1.031,"a":1.4},{"k":5,"t":1.269,"a":2.6},{"k":5,"t":1.363,"a":5.3},{"k":5,"t":1.406,"a":3.1},
{"k":5,"t":1.45,"a":3.8},{"k":5,"t":1.513,"a":12.5},{"k":5,"t":1.638,"a":3.1},{"k":5,"t":1.675,"a":5.6},{"k":5,"t":1.7,"a":5.6},{"k":5,"t":1.781,"a":2.4},{"k":5,"t":1.925,"a":4.0},{"k":5,"t":1.956,"a":5.3},{"k":5,"t":1.988,"a":6.0},{"k":5,"t":2.013,"a":3.8},
{"k":5,"t":2.163,"a":6.9},{"k":5,"t":2.225,"a":4.8},{"k":5,"t":2.375,"a":1.7},{"k":5,"t":2.563,"a":1.4},{"k":5,"t":2.813,"a":2.2},{"k":5,"t":2.938,"a":4.4},{"k":5,"t":3.113,"a":2.6},{"k":5,"t":3.156,"a":2.4},{"k":5,"t":3.219,"a":2.6},{"k":5,"t":3.363,"a":7.2},
{"k":5,"t":3.388,"a":3.5},{"k":5,"t":3.469,"a":2.9},{"k":5,"t":3.856,"a":5.4},{"k":5,"t":3.919,"a":7.6},{"k":5,"t":3.95,"a":4.2},{"k":5,"t":3.981,"a":4.2},{"k":5,"t":4.038,"a":5.6},{"k":5,"t":4.294,"a":4.4},{"k":5,"t":4.481,"a":5.1},{"k":5,"t":4.656,"a":1.7},
{"k":5,"t":4.85,"a":9.8},{"k":5,"t":4.906,"a":12.3},{"k":5,"t":5.063,"a":2.7},{"k":5,"t":5.169,"a":6.7},{"k":5,"t":5.219,"a":3.8},{"k":5,"t":5.281,"a":9.8},{"k":5,"t":5.438,"a":7.6},{"k":5,"t":5.625,"a":5.1},{"k":5,"t":5.669,"a":8.2},{"k":5,"t":5.75,"a":2.7},
{"k":5,"t":5.863,"a":8.7},{"k":5,"t":5.906,"a":8.2},{"k":5,"t":5.969,"a":2.4},{"k":5,"t":6.2,"a":2.2},{"k":5,"t":6.438,"a":11.4},{"k":5,"t":6.5,"a":3.5},{"k":5,"t":6.544,"a":4.4},{"k":5,"t":6.675,"a":5.5},{"k":5,"t":6.731,"a":6.9},{"k":5,"t":6.844,"a":10.5},
{"k":5,"t":6.875,"a":4.2},{"k":5,"t":6.919,"a":3.5},{"k":5,"t":7.188,"a":2.0},{"k":5,"t":7.313,"a":8.2},{"k":5,"t":7.344,"a":2.7},{"k":5,"t":7.5,"a":7.7},{"k":5,"t":7.719,"a":1.7},{"k":5,"t":8.219,"a":2.4},{"k":5,"t":8.531,"a":5.8},{"k":5,"t":8.575,"a":4.2},
{"k":5,"t":8.638,"a":6.7},{"k":5,"t":8.863,"a":3.8},{"k":5,"t":8.906,"a":2.7},{"k":5,"t":9.375,"a":3.3},
{"k":5,"t":0.4,"a":2.3},{"k":5,"t":0.9,"a":-2.4},{"k":5,"t":1.15,"a":2.4},{"k":5,"t":1.9,"a":-2.3},{"k":5,"t":2.45,"a":2.2},{"k":5,"t":2.7,"a":-2.5},{"k":5,"t":3.05,"a":2.4},{"k":5,"t":3.6,"a":-2.3},{"k":5,"t":3.7,"a":2.5},{"k":5,"t":4.15,"a":-2.2},{"k":5,"t":4.4,"a":2.4},{"k":5,"t":4.75,"a":-2.4},{"k":5,"t":5.35,"a":2.3},{"k":5,"t":5.55,"a":-2.3},{"k":5,"t":6.05,"a":2.4},{"k":5,"t":6.3,"a":-2.5},{"k":5,"t":6.6,"a":2.4},{"k":5,"t":7.0,"a":-2.4},{"k":5,"t":7.4,"a":2.5},{"k":5,"t":7.6,"a":-2.2},{"k":5,"t":7.9,"a":2.3},{"k":5,"t":8.05,"a":-2.4},{"k":5,"t":8.35,"a":2.4},{"k":5,"t":8.75,"a":-2.3},{"k":5,"t":9.1,"a":2.4},{"k":5,"t":9.45,"a":2.2},

{"k":6,"t":0.031,"a":1.9},{"k":6,"t":0.2,"a":2.2},{"k":6,"t":0.263,"a":10.8},{"k":6,"t":0.3,"a":11.3},{"k":6,"t":0.344,"a":8.8},{"k":6,"t":0.375,"a":7.0},{"k":6,"t":0.438,"a":5.0},{"k":6,"t":0.469,"a":8.4},{"k":6,"t":0.531,"a":4.6},{"k":6,"t":0.575,"a":5.0},
{"k":6,"t":0.625,"a":11.2},{"k":6,"t":0.656,"a":8.8},{"k":6,"t":0.688,"a":10.1},{"k":6,"t":0.738,"a":11.5},{"k":6,"t":0.763,"a":8.8},{"k":6,"t":0.813,"a":9.8},{"k":6,"t":0.844,"a":10.1},{"k":6,"t":0.875,"a":8.4},{"k":6,"t":0.906,"a":9.8},{"k":6,"t":0.938,"a":9.1},
{"k":6,"t":0.969,"a":6.3},{"k":6,"t":1.031,"a":4.3},{"k":6,"t":1.094,"a":7.4},{"k":6,"t":1.125,"a":10.8},{"k":6,"t":1.156,"a":11.2},{"k":6,"t":1.2,"a":6.3},{"k":6,"t":1.238,"a":6.7},{"k":6,"t":1.281,"a":5.0},{"k":6,"t":1.344,"a":3.9},{"k":6,"t":1.406,"a":5.7},
{"k":6,"t":1.45,"a":9.5},{"k":6,"t":1.488,"a":9.8},{"k":6,"t":1.531,"a":8.8},{"k":6,"t":1.575,"a":7.0},{"k":6,"t":1.638,"a":11.2},{"k":6,"t":1.688,"a":5.0},{"k":6,"t":1.719,"a":2.9},{"k":6,"t":1.813,"a":8.1},{"k":6,"t":1.875,"a":2.9},{"k":6,"t":2.013,"a":11.2},
{"k":6,"t":2.05,"a":4.6},{"k":6,"t":2.138,"a":4.3},{"k":6,"t":2.375,"a":5.7},{"k":6,"t":2.45,"a":9.5},{"k":6,"t":2.488,"a":7.0},{"k":6,"t":2.55,"a":3.9},{"k":6,"t":2.613,"a":6.3},{"k":6,"t":2.656,"a":9.5},{"k":6,"t":2.719,"a":4.6},{"k":6,"t":2.763,"a":6.0},
{"k":6,"t":2.813,"a":5.3},{"k":6,"t":2.856,"a":4.3},{"k":6,"t":2.894,"a":7.0},{"k":6,"t":2.938,"a":8.1},{"k":6,"t":3.025,"a":12.4},{"k":6,"t":3.063,"a":8.1},{"k":6,"t":3.1,"a":5.0},{"k":6,"t":3.188,"a":6.3},{"k":6,"t":3.238,"a":8.4},{"k":6,"t":3.281,"a":9.1},
{"k":6,"t":3.325,"a":7.0},{"k":6,"t":3.406,"a":4.3},{"k":6,"t":3.469,"a":2.9},{"k":6,"t":3.563,"a":2.9},{"k":6,"t":3.638,"a":8.4},{"k":6,"t":3.675,"a":8.4},{"k":6,"t":3.75,"a":6.0},{"k":6,"t":3.813,"a":5.3},{"k":6,"t":3.875,"a":3.6},{"k":6,"t":3.938,"a":4.3},
{"k":6,"t":4.013,"a":5.0},{"k":6,"t":4.094,"a":5.7},{"k":6,"t":4.156,"a":7.4},{"k":6,"t":4.263,"a":9.8},{"k":6,"t":4.344,"a":5.3},{"k":6,"t":4.388,"a":4.6},{"k":6,"t":4.45,"a":7.7},{"k":6,"t":4.5,"a":4.3},{"k":6,"t":4.625,"a":4.3},{"k":6,"t":4.675,"a":5.0},
{"k":6,"t":4.75,"a":4.6},{"k":6,"t":4.813,"a":5.7},{"k":6,"t":4.844,"a":7.7},{"k":6,"t":4.969,"a":4.6},{"k":6,"t":5.063,"a":6.7},{"k":6,"t":5.106,"a":8.4},{"k":6,"t":5.156,"a":11.2},{"k":6,"t":5.219,"a":5.3},{"k":6,"t":5.281,"a":4.3},{"k":6,"t":5.406,"a":3.6},
{"k":6,"t":5.5,"a":9.9},{"k":6,"t":5.55,"a":8.4},{"k":6,"t":5.613,"a":5.0},{"k":6,"t":5.656,"a":6.7},{"k":6,"t":5.719,"a":8.1},{"k":6,"t":5.763,"a":8.8},{"k":6,"t":5.8,"a":9.2},{"k":6,"t":5.844,"a":4.6},{"k":6,"t":5.888,"a":10.5},{"k":6,"t":5.925,"a":11.2},
{"k":6,"t":5.969,"a":8.8},{"k":6,"t":6.0,"a":12.7},{"k":6,"t":6.031,"a":10.8},{"k":6,"t":6.063,"a":12.2},{"k":6,"t":6.113,"a":6.3},{"k":6,"t":6.156,"a":7.7},{"k":6,"t":6.188,"a":10.5},{"k":6,"t":6.25,"a":11.2},{"k":6,"t":6.281,"a":12.7},{"k":6,"t":6.325,"a":11.5},
{"k":6,"t":6.363,"a":12.2},{"k":6,"t":6.406,"a":10.5},{"k":6,"t":6.45,"a":9.8},{"k":6,"t":6.488,"a":4.3},{"k":6,"t":6.531,"a":5.3},{"k":6,"t":6.625,"a":5.7},{"k":6,"t":6.656,"a":5.0},{"k":6,"t":6.719,"a":9.1},{"k":6,"t":6.8,"a":9.2},{"k":6,"t":6.844,"a":5.7},
{"k":6,"t":6.906,"a":9.9},{"k":6,"t":6.969,"a":9.1},{"k":6,"t":7.0,"a":5.7},{"k":6,"t":7.031,"a":9.0},{"k":6,"t":7.075,"a":8.8},{"k":6,"t":7.125,"a":2.9},{"k":6,"t":7.188,"a":9.5},{"k":6,"t":7.25,"a":9.5},{"k":6,"t":7.3,"a":10.1},{"k":6,"t":7.344,"a":9.1},
{"k":6,"t":7.375,"a":10.5},{"k":6,"t":7.425,"a":9.8},{"k":6,"t":7.469,"a":8.8},{"k":6,"t":7.5,"a":6.3},{"k":6,"t":7.613,"a":1.9},{"k":6,"t":7.688,"a":4.3},{"k":6,"t":7.813,"a":8.1},{"k":6,"t":7.906,"a":8.1},{"k":6,"t":7.969,"a":8.4},{"k":6,"t":8.031,"a":8.1},
{"k":6,"t":8.125,"a":11.0},{"k":6,"t":8.2,"a":5.3},{"k":6,"t":8.25,"a":6.3},{"k":6,"t":8.313,"a":9.1},{"k":6,"t":8.363,"a":6.7},{"k":6,"t":8.406,"a":5.0},{"k":6,"t":8.5,"a":2.6},{"k":6,"t":8.688,"a":2.6},{"k":6,"t":8.831,"a":4.1},{"k":6,"t":8.906,"a":3.2},
{"k":6,"t":9.125,"a":2.2},{"k":6,"t":9.219,"a":1.9},{"k":6,"t":9.313,"a":2.2},{"k":6,"t":1.219,"a":-3.0},{"k":6,"t":1.594,"a":-3.0},{"k":6,"t":5.438,"a":-3.0},{"k":6,"t":8.69,"a":-2.8},
{"k":6,"t":0.28,"a":11.0},{"k":6,"t":0.32,"a":10.0},{"k":6,"t":0.6,"a":9.0},{"k":6,"t":0.64,"a":10.0},{"k":6,"t":0.67,"a":9.5},{"k":6,"t":0.71,"a":10.8},{"k":6,"t":0.75,"a":10.0},{"k":6,"t":0.79,"a":9.2},{"k":6,"t":0.83,"a":10.0},{"k":6,"t":0.86,"a":9.2},{"k":6,"t":0.89,"a":9.1},{"k":6,"t":0.92,"a":9.5},{"k":6,"t":1.14,"a":11.0},{"k":6,"t":1.17,"a":9.0},{"k":6,"t":1.47,"a":9.6},{"k":6,"t":1.51,"a":9.2},{"k":6,"t":1.65,"a":9.0},
{"k":6,"t":6.015,"a":11.5},{"k":6,"t":6.047,"a":11.5},{"k":6,"t":6.08,"a":11.0},{"k":6,"t":6.17,"a":9.0},{"k":6,"t":6.21,"a":10.8},{"k":6,"t":6.265,"a":12.0},{"k":6,"t":6.3,"a":12.0},{"k":6,"t":6.345,"a":11.8},{"k":6,"t":6.385,"a":11.0},{"k":6,"t":6.43,"a":10.0},{"k":6,"t":6.74,"a":8.5},{"k":6,"t":6.78,"a":8.8},{"k":6,"t":7.21,"a":9.0},{"k":6,"t":7.27,"a":9.8},{"k":6,"t":7.32,"a":9.6},{"k":6,"t":7.36,"a":9.8},{"k":6,"t":7.4,"a":10.0},{"k":6,"t":7.45,"a":9.0},{"k":6,"t":5.9,"a":10.8},{"k":6,"t":5.95,"a":10.0},{"k":6,"t":5.52,"a":9.0},{"k":6,"t":5.78,"a":9.0},
{"k":6,"t":0.1,"a":2.8},{"k":6,"t":0.5,"a":-2.9},{"k":6,"t":1.3,"a":2.9},{"k":6,"t":1.75,"a":-2.8},{"k":6,"t":2.2,"a":3.0},{"k":6,"t":2.3,"a":-2.7},{"k":6,"t":2.5,"a":3.1},{"k":6,"t":3.35,"a":-2.9},{"k":6,"t":3.55,"a":3.2},{"k":6,"t":4.2,"a":-2.8},{"k":6,"t":4.55,"a":3.0},{"k":6,"t":4.9,"a":-2.7},{"k":6,"t":5.3,"a":3.0},{"k":6,"t":6.55,"a":-2.8},{"k":6,"t":6.95,"a":3.0},{"k":6,"t":7.55,"a":3.1},{"k":6,"t":7.75,"a":-2.8},{"k":6,"t":8.05,"a":3.0},{"k":6,"t":8.6,"a":-2.7},{"k":6,"t":8.95,"a":2.6},{"k":6,"t":9.05,"a":-2.5},{"k":6,"t":9.2,"a":2.7},{"k":6,"t":9.35,"a":-2.2}
]
},
"layer":[
{"layer":[
{"data":{"name":"noise"},"transform":[{"filter":"datum.k==1"}],"mark":{"type":"area","color":"#1a1a1a"},"encoding":{"x":{"field":"t","type":"quantitative","scale":{"domain":[-0.1778,10.8593],"nice":false,"zero":false},"axis":null},"y":{"field":"h","type":"quantitative","scale":{"domain":[-202.08,20],"nice":false,"zero":false},"axis":null},"y2":{"field":"l"}}},
{"data":{"name":"open"},"transform":[{"filter":"datum.k==1"}],"mark":{"type":"rule","color":"#1a1a1a","strokeWidth":1.8},"encoding":{"x":{"field":"t","type":"quantitative","scale":{"domain":[-0.1778,10.8593],"nice":false,"zero":false},"axis":null},"y":{"field":"a","type":"quantitative","scale":{"domain":[-202.08,20],"nice":false,"zero":false},"axis":null},"y2":{"datum":0}}},
{"data":{"name":"labels"},"transform":[{"filter":"datum.k==1"}],"mark":{"type":"text","align":"left","baseline":"middle","fontSize":22},"encoding":{"x":{"datum":0.03,"type":"quantitative","scale":{"domain":[-0.1778,10.8593],"nice":false,"zero":false},"axis":null},"y":{"datum":-11.25,"type":"quantitative","scale":{"domain":[-202.08,20],"nice":false,"zero":false},"axis":null},"text":{"field":"label"}}},
{"data":{"name":"labels"},"transform":[{"filter":"datum.k==1"}],"mark":{"type":"text","align":"left","baseline":"middle","fontSize":25},"encoding":{"x":{"datum":10.13,"type":"quantitative","scale":{"domain":[-0.1778,10.8593],"nice":false,"zero":false},"axis":null},"y":{"datum":0.2,"type":"quantitative","scale":{"domain":[-202.08,20],"nice":false,"zero":false},"axis":null},"text":{"field":"po"}}},
{"data":{"name":"header"},"mark":{"type":"text","align":"left","baseline":"middle","fontSize":25},"encoding":{"x":{"datum":10.15,"type":"quantitative","scale":{"domain":[-0.1778,10.8593],"nice":false,"zero":false},"axis":null},"y":{"datum":16.9,"type":"quantitative","scale":{"domain":[-202.08,20],"nice":false,"zero":false},"axis":null},"text":{"field":"main"}}},
{"data":{"name":"header"},"mark":{"type":"text","align":"left","baseline":"middle","fontSize":17},"encoding":{"x":{"datum":10.4,"type":"quantitative","scale":{"domain":[-0.1778,10.8593],"nice":false,"zero":false},"axis":null},"y":{"datum":15.2,"type":"quantitative","scale":{"domain":[-202.08,20],"nice":false,"zero":false},"axis":null},"text":{"field":"sub"}}}
]},
{"layer":[
{"data":{"name":"noise"},"transform":[{"filter":"datum.k==2"}],"mark":{"type":"area","color":"#1a1a1a"},"encoding":{"x":{"field":"t","type":"quantitative","scale":{"domain":[-0.1778,10.8593],"nice":false,"zero":false},"axis":null},"y":{"field":"h","type":"quantitative","scale":{"domain":[-165.42,56.67],"nice":false,"zero":false},"axis":null},"y2":{"field":"l"}}},
{"data":{"name":"open"},"transform":[{"filter":"datum.k==2"}],"mark":{"type":"rule","color":"#1a1a1a","strokeWidth":1.8},"encoding":{"x":{"field":"t","type":"quantitative","scale":{"domain":[-0.1778,10.8593],"nice":false,"zero":false},"axis":null},"y":{"field":"a","type":"quantitative","scale":{"domain":[-165.42,56.67],"nice":false,"zero":false},"axis":null},"y2":{"datum":0}}},
{"data":{"name":"labels"},"transform":[{"filter":"datum.k==2"}],"mark":{"type":"text","align":"left","baseline":"middle","fontSize":22},"encoding":{"x":{"datum":0.03,"type":"quantitative","scale":{"domain":[-0.1778,10.8593],"nice":false,"zero":false},"axis":null},"y":{"datum":-11.0,"type":"quantitative","scale":{"domain":[-165.42,56.67],"nice":false,"zero":false},"axis":null},"text":{"field":"label"}}},
{"data":{"name":"labels"},"transform":[{"filter":"datum.k==2"}],"mark":{"type":"text","align":"left","baseline":"middle","fontSize":25},"encoding":{"x":{"datum":10.13,"type":"quantitative","scale":{"domain":[-0.1778,10.8593],"nice":false,"zero":false},"axis":null},"y":{"datum":0.3,"type":"quantitative","scale":{"domain":[-165.42,56.67],"nice":false,"zero":false},"axis":null},"text":{"field":"po"}}}
]},
{"layer":[
{"data":{"name":"noise"},"transform":[{"filter":"datum.k==3"}],"mark":{"type":"area","color":"#1a1a1a"},"encoding":{"x":{"field":"t","type":"quantitative","scale":{"domain":[-0.1778,10.8593],"nice":false,"zero":false},"axis":null},"y":{"field":"h","type":"quantitative","scale":{"domain":[-136.25,85.83],"nice":false,"zero":false},"axis":null},"y2":{"field":"l"}}},
{"data":{"name":"open"},"transform":[{"filter":"datum.k==3"}],"mark":{"type":"rule","color":"#1a1a1a","strokeWidth":1.8},"encoding":{"x":{"field":"t","type":"quantitative","scale":{"domain":[-0.1778,10.8593],"nice":false,"zero":false},"axis":null},"y":{"field":"a","type":"quantitative","scale":{"domain":[-136.25,85.83],"nice":false,"zero":false},"axis":null},"y2":{"datum":0}}},
{"data":{"name":"labels"},"transform":[{"filter":"datum.k==3"}],"mark":{"type":"text","align":"left","baseline":"middle","fontSize":22},"encoding":{"x":{"datum":0.03,"type":"quantitative","scale":{"domain":[-0.1778,10.8593],"nice":false,"zero":false},"axis":null},"y":{"datum":-8.3,"type":"quantitative","scale":{"domain":[-136.25,85.83],"nice":false,"zero":false},"axis":null},"text":{"field":"label"}}},
{"data":{"name":"labels"},"transform":[{"filter":"datum.k==3"}],"mark":{"type":"text","align":"left","baseline":"middle","fontSize":25},"encoding":{"x":{"datum":10.13,"type":"quantitative","scale":{"domain":[-0.1778,10.8593],"nice":false,"zero":false},"axis":null},"y":{"datum":0.3,"type":"quantitative","scale":{"domain":[-136.25,85.83],"nice":false,"zero":false},"axis":null},"text":{"field":"po"}}}
]},
{"layer":[
{"data":{"name":"noise"},"transform":[{"filter":"datum.k==4"}],"mark":{"type":"area","color":"#1a1a1a"},"encoding":{"x":{"field":"t","type":"quantitative","scale":{"domain":[-0.1778,10.8593],"nice":false,"zero":false},"axis":null},"y":{"field":"h","type":"quantitative","scale":{"domain":[-100.83,121.25],"nice":false,"zero":false},"axis":null},"y2":{"field":"l"}}},
{"data":{"name":"open"},"transform":[{"filter":"datum.k==4"}],"mark":{"type":"rule","color":"#1a1a1a","strokeWidth":1.8},"encoding":{"x":{"field":"t","type":"quantitative","scale":{"domain":[-0.1778,10.8593],"nice":false,"zero":false},"axis":null},"y":{"field":"a","type":"quantitative","scale":{"domain":[-100.83,121.25],"nice":false,"zero":false},"axis":null},"y2":{"datum":0}}},
{"data":{"name":"labels"},"transform":[{"filter":"datum.k==4"}],"mark":{"type":"text","align":"left","baseline":"middle","fontSize":22},"encoding":{"x":{"datum":0.03,"type":"quantitative","scale":{"domain":[-0.1778,10.8593],"nice":false,"zero":false},"axis":null},"y":{"datum":-7.3,"type":"quantitative","scale":{"domain":[-100.83,121.25],"nice":false,"zero":false},"axis":null},"text":{"field":"label"}}},
{"data":{"name":"labels"},"transform":[{"filter":"datum.k==4"}],"mark":{"type":"text","align":"left","baseline":"middle","fontSize":25},"encoding":{"x":{"datum":10.13,"type":"quantitative","scale":{"domain":[-0.1778,10.8593],"nice":false,"zero":false},"axis":null},"y":{"datum":0.3,"type":"quantitative","scale":{"domain":[-100.83,121.25],"nice":false,"zero":false},"axis":null},"text":{"field":"po"}}}
]},
{"layer":[
{"data":{"name":"noise"},"transform":[{"filter":"datum.k==5"}],"mark":{"type":"area","color":"#1a1a1a"},"encoding":{"x":{"field":"t","type":"quantitative","scale":{"domain":[-0.1778,10.8593],"nice":false,"zero":false},"axis":null},"y":{"field":"h","type":"quantitative","scale":{"domain":[-65.21,156.88],"nice":false,"zero":false},"axis":null},"y2":{"field":"l"}}},
{"data":{"name":"open"},"transform":[{"filter":"datum.k==5"}],"mark":{"type":"rule","color":"#1a1a1a","strokeWidth":1.8},"encoding":{"x":{"field":"t","type":"quantitative","scale":{"domain":[-0.1778,10.8593],"nice":false,"zero":false},"axis":null},"y":{"field":"a","type":"quantitative","scale":{"domain":[-65.21,156.88],"nice":false,"zero":false},"axis":null},"y2":{"datum":0}}},
{"data":{"name":"labels"},"transform":[{"filter":"datum.k==5"}],"mark":{"type":"text","align":"left","baseline":"middle","fontSize":22},"encoding":{"x":{"datum":0.03,"type":"quantitative","scale":{"domain":[-0.1778,10.8593],"nice":false,"zero":false},"axis":null},"y":{"datum":-7.7,"type":"quantitative","scale":{"domain":[-65.21,156.88],"nice":false,"zero":false},"axis":null},"text":{"field":"label"}}},
{"data":{"name":"labels"},"transform":[{"filter":"datum.k==5"}],"mark":{"type":"text","align":"left","baseline":"middle","fontSize":25},"encoding":{"x":{"datum":10.13,"type":"quantitative","scale":{"domain":[-0.1778,10.8593],"nice":false,"zero":false},"axis":null},"y":{"datum":0.3,"type":"quantitative","scale":{"domain":[-65.21,156.88],"nice":false,"zero":false},"axis":null},"text":{"field":"po"}}}
]},
{"layer":[
{"data":{"name":"noise"},"transform":[{"filter":"datum.k==6"}],"mark":{"type":"area","color":"#1a1a1a"},"encoding":{"x":{"field":"t","type":"quantitative","scale":{"domain":[-0.1778,10.8593],"nice":false,"zero":false},"axis":null},"y":{"field":"h","type":"quantitative","scale":{"domain":[-29.79,192.29],"nice":false,"zero":false},"axis":null},"y2":{"field":"l"}}},
{"data":{"name":"open"},"transform":[{"filter":"datum.k==6"}],"mark":{"type":"rule","color":"#1a1a1a","strokeWidth":1.8},"encoding":{"x":{"field":"t","type":"quantitative","scale":{"domain":[-0.1778,10.8593],"nice":false,"zero":false},"axis":null},"y":{"field":"a","type":"quantitative","scale":{"domain":[-29.79,192.29],"nice":false,"zero":false},"axis":null},"y2":{"datum":0}}},
{"data":{"name":"labels"},"transform":[{"filter":"datum.k==6"}],"mark":{"type":"text","align":"left","baseline":"middle","fontSize":22},"encoding":{"x":{"datum":0.03,"type":"quantitative","scale":{"domain":[-0.1778,10.8593],"nice":false,"zero":false},"axis":null},"y":{"datum":-9.4,"type":"quantitative","scale":{"domain":[-29.79,192.29],"nice":false,"zero":false},"axis":null},"text":{"field":"label"}}},
{"data":{"name":"labels"},"transform":[{"filter":"datum.k==6"}],"mark":{"type":"text","align":"left","baseline":"middle","fontSize":25},"encoding":{"x":{"datum":10.13,"type":"quantitative","scale":{"domain":[-0.1778,10.8593],"nice":false,"zero":false},"axis":null},"y":{"datum":0.3,"type":"quantitative","scale":{"domain":[-29.79,192.29],"nice":false,"zero":false},"axis":null},"text":{"field":"po"}}},
{"data":{"name":"scalebar"},"mark":{"type":"rule","color":"#1a1a1a","strokeWidth":2},"encoding":{"x":{"datum":5.822,"type":"quantitative","scale":{"domain":[-0.1778,10.8593],"nice":false,"zero":false},"axis":null},"x2":{"datum":7.822},"y":{"datum":-10.4,"type":"quantitative","scale":{"domain":[-29.79,192.29],"nice":false,"zero":false},"axis":null}}},
{"data":{"name":"scalebar"},"mark":{"type":"rule","color":"#1a1a1a","strokeWidth":2},"encoding":{"x":{"datum":5.822,"type":"quantitative","scale":{"domain":[-0.1778,10.8593],"nice":false,"zero":false},"axis":null},"y":{"datum":-10.4,"type":"quantitative","scale":{"domain":[-29.79,192.29],"nice":false,"zero":false},"axis":null},"y2":{"datum":-30.4}}},
{"data":{"name":"scalebar"},"mark":{"type":"text","align":"center","baseline":"middle","fontSize":25},"encoding":{"x":{"datum":6.93,"type":"quantitative","scale":{"domain":[-0.1778,10.8593],"nice":false,"zero":false},"axis":null},"y":{"datum":-16.9,"type":"quantitative","scale":{"domain":[-29.79,192.29],"nice":false,"zero":false},"axis":null},"text":{"field":"time"}}},
{"data":{"name":"scalebar"},"mark":{"type":"text","align":"right","baseline":"middle","fontSize":25},"encoding":{"x":{"datum":5.6,"type":"quantitative","scale":{"domain":[-0.1778,10.8593],"nice":false,"zero":false},"axis":null},"y":{"datum":-22.3,"type":"quantitative","scale":{"domain":[-29.79,192.29],"nice":false,"zero":false},"axis":null},"text":{"field":"current"}}}
]}
],
"resolve":{"scale":{"y":"independent"}}
}
